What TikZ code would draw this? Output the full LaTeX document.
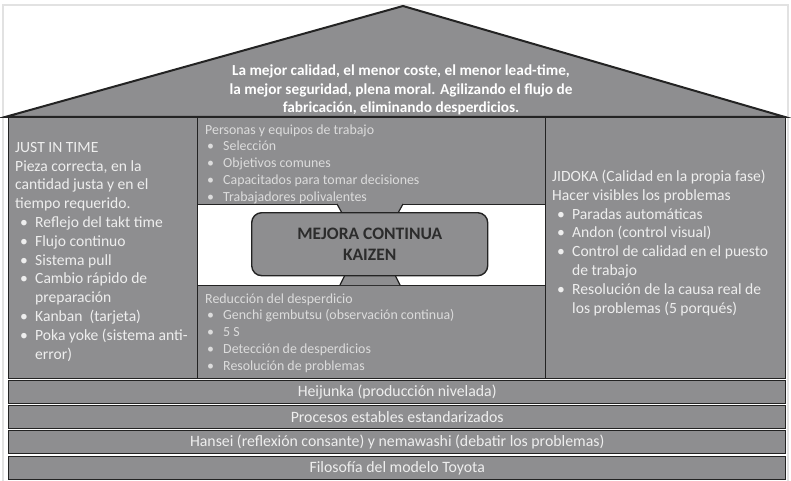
\documentclass[tikz,border=0pt]{standalone}
\usepackage{fontspec}
\setmainfont{Carlito}
\usepackage{xcolor}
\definecolor{houseGray}  {HTML}{8E8E90}
\definecolor{lineDark}   {HTML}{232323}
\definecolor{paleText}   {HTML}{EEEEEE}
\definecolor{dimText}    {HTML}{DCDCDC}
\definecolor{kaizenText} {HTML}{2C2C2C}
\definecolor{frameGray}  {HTML}{E2E2E2}
\usetikzlibrary{positioning}
% bullets for the pillars and for the middle boxes
\newcommand{\bul}{\hspace*{5pt}\makebox[15pt][l]{\textbullet}}
\newcommand{\mbul}{\hspace*{2pt}\makebox[16pt][l]{\textbullet}}

\begin{document}
\begin{tikzpicture}[
    x=1pt, y=-1pt,
    every node/.style={inner sep=0pt},
    box/.style={draw=lineDark, line width=1.4pt, fill=houseGray, rectangle,
                anchor=north west},
    band/.style={box, minimum width=777, minimum height=23,
                 font=\fontsize{15.8}{17}\selectfont, text=paleText},
    txt/.style={align=left, anchor=base west, text=paleText,
                font=\fontsize{15.6}{18.8}\selectfont},
    mtxt/.style={align=left, anchor=base west, text=dimText,
                 font=\fontsize{13.9}{16.7}\selectfont},
    neck/.style={draw=lineDark, line width=1.2pt}
]
\useasboundingbox (0,0) rectangle (791,481);
\draw[frameGray, line width=1.5pt] (3,5) rectangle (788,495);
% Roof (base anchor = last line)
\draw[fill=houseGray, draw=lineDark, line width=2pt, line join=miter]
    (5,117) -- (403,6) -- (785,117) -- cycle;
\node[align=center, anchor=base, text=white,
      font=\bfseries\fontsize{15.3}{18.5}\selectfont] (goal) at (401,113)
    {La mejor calidad, el menor coste, el menor lead-time,\\
     la mejor seguridad, plena moral. Agilizando el flujo de\\
     fabricación, eliminando desperdicios.};
% Pillars
\node[box, minimum width=189, minimum height=261] (jit) at (8,117) {};
\node[box, minimum width=240, minimum height=261] (jidoka) at (545,117) {};
\node[box, minimum width=348, minimum height=87] (personas) at (197,117) {};
\node[box, minimum width=348, minimum height=93] (reduccion) at (197,285) {};
\node[txt] (jittext) at (15,359)
    {JUST IN TIME\\
     Pieza correcta, en la\\
     cantidad justa y en el\\
     tiempo requerido.\\
     \bul Reflejo del takt time\\
     \bul Flujo continuo\\
     \bul Sistema pull\\
     \bul Cambio rápido de\\
     \hspace*{20pt}preparación\\
     \bul Kanban\ \ (tarjeta)\\
     \bul Poka yoke (sistema anti-\\
     \hspace*{20pt}error)};
\node[txt] (jidokatext) at (552,313)
    {JIDOKA (Calidad en la propia fase)\\
     Hacer visibles los problemas\\
     \bul Paradas automáticas\\
     \bul Andon (control visual)\\
     \bul Control de calidad en el puesto\\
     \hspace*{20pt}de trabajo\\
     \bul Resolución de la causa real de\\
     \hspace*{20pt}los problemas (5 porqués)};
\node[mtxt] (personastext) at (205,201)
    {Personas y equipos de trabajo\\
     \mbul Selección\\
     \mbul Objetivos comunes\\
     \mbul Capacitados para tomar decisiones\\
     \mbul Trabajadores polivalentes};
\node[mtxt] (reducciontext) at (205,370)
    {Reducción del desperdicio\\
     \mbul Genchi gembutsu (observación continua)\\
     \mbul 5 S\\
     \mbul Detección de desperdicios\\
     \mbul Resolución de problemas};
% Kaizen in the middle, tied to both boxes
\fill[houseGray] (337,204) -- (342,213) -- (398,213) -- (403,204) -- cycle;
\draw[neck] (337,204) -- (342,213) (403,204) -- (398,213);
\fill[houseGray] (340,285) -- (345,275) -- (395,275) -- (400,285) -- cycle;
\draw[neck] (340,285) -- (345,275) (400,285) -- (395,275);
\node[box, rounded corners=10pt, minimum width=236, minimum height=63,
      align=center, text=kaizenText, font=\bfseries\fontsize{17.5}{21}\selectfont]
    (kaizen) at (251,212) {MEJORA CONTINUA\\KAIZEN};
% Foundation bands
\foreach \y/\n/\t in {380/heijunka/{Heijunka (producción nivelada)},
                      405/procesos/{Procesos estables estandarizados},
                      430/hansei/{Hansei (reflexión consante) y nemawashi (debatir los problemas)},
                      456/filosofia/{Filosofía del modelo Toyota}} {
    \node[band] (\n) at (8,\y) {\t};
}
\end{tikzpicture}
\end{document}
